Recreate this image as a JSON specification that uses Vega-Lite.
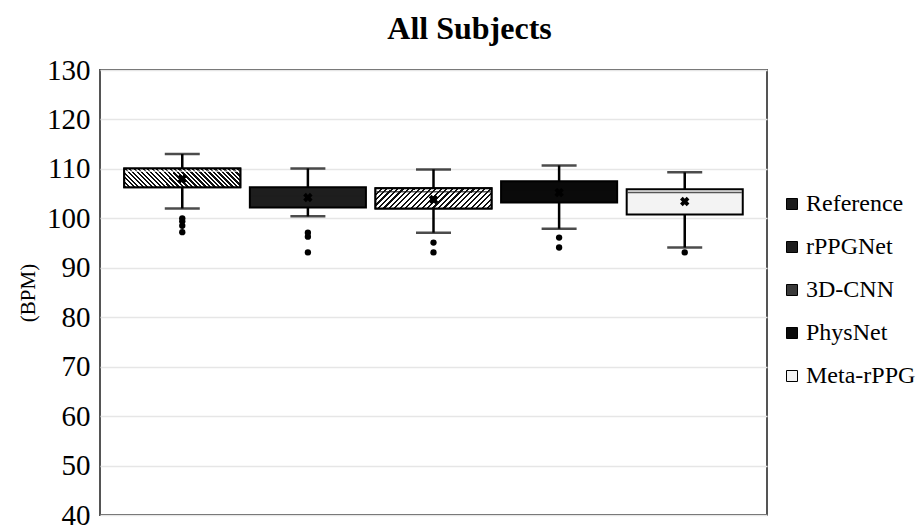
{
  "$schema": "https://vega.github.io/schema/vega-lite/v6.json",
  "width": 667,
  "height": 445,
  "autosize": {"type": "none"},
  "padding": {"left": 100, "top": 70, "right": 151, "bottom": 10},
  "background": "white",
  "title": {"text": "All Subjects", "font": "Liberation Serif", "fontSize": 32, "fontWeight": "bold", "color": "black", "anchor": "middle", "dx": 36, "baseline": "alphabetic", "offset": 32, "dy": 47},
  "config": {
    "view": {"stroke": "#555", "strokeWidth": 2},
    "axisY": {"labelFont": "Liberation Serif", "labelFontSize": 29, "labelColor": "black", "ticks": false, "labelPadding": 10, "domain": false, "gridColor": "#e6e6e6", "gridWidth": 1.5, "titleFont": "Liberation Serif", "titleFontSize": 21, "titleFontWeight": "normal", "titleColor": "black", "titlePadding": 8}
  },
  "datasets": {
    "boxes": [
      {"group": "Reference", "lower": 102.0, "q1": 106.3, "median": 109.5, "q3": 110.1, "upper": 113.0, "mean": 108.0},
      {"group": "rPPGNet", "lower": 100.4, "q1": 102.2, "median": 104.5, "q3": 106.3, "upper": 110.1, "mean": 104.2},
      {"group": "3D-CNN", "lower": 97.1, "q1": 102.0, "median": 105.4, "q3": 106.1, "upper": 109.9, "mean": 103.8},
      {"group": "PhysNet", "lower": 97.9, "q1": 103.2, "median": 105.5, "q3": 107.5, "upper": 110.7, "mean": 105.2},
      {"group": "Meta-rPPG", "lower": 94.1, "q1": 100.8, "median": 105.2, "q3": 105.9, "upper": 109.3, "mean": 103.4}
    ],
    "outliers": [
      {"group": "Reference", "value": 100.0},
      {"group": "Reference", "value": 99.4},
      {"group": "Reference", "value": 98.5},
      {"group": "Reference", "value": 97.2},
      {"group": "rPPGNet", "value": 97.1},
      {"group": "rPPGNet", "value": 96.3},
      {"group": "rPPGNet", "value": 93.1},
      {"group": "3D-CNN", "value": 95.1},
      {"group": "3D-CNN", "value": 93.1},
      {"group": "PhysNet", "value": 96.1},
      {"group": "PhysNet", "value": 94.1},
      {"group": "Meta-rPPG", "value": 93.1}
    ]
  },
  "data": {"name": "boxes"},
  "encoding": {
    "x": {"field": "group", "type": "nominal", "sort": ["Reference", "rPPGNet", "3D-CNN", "PhysNet", "Meta-rPPG"], "axis": null, "scale": {"paddingInner": 0.076, "paddingOuter": 0.193}}
  },
  "layer": [
    {
      "mark": {"type": "rule", "color": "black", "strokeWidth": 2.5},
      "encoding": {
        "y": {"field": "lower", "type": "quantitative", "scale": {"domain": [40, 130], "nice": false, "zero": false}, "axis": {"title": "(BPM)", "values": [40, 50, 60, 70, 80, 90, 100, 110, 120, 130]}},
        "y2": {"field": "upper"}
      }
    },
    {
      "mark": {"type": "tick", "color": "black", "size": 35, "thickness": 2.5, "orient": "horizontal"},
      "encoding": {"y": {"field": "upper", "type": "quantitative"}}
    },
    {
      "mark": {"type": "tick", "color": "black", "size": 35, "thickness": 2.5, "orient": "horizontal"},
      "encoding": {"y": {"field": "lower", "type": "quantitative"}}
    },
    {
      "mark": {"type": "bar", "stroke": "black", "strokeWidth": 2, "opacity": 1},
      "encoding": {
        "y": {"field": "q1", "type": "quantitative"},
        "y2": {"field": "q3"},
        "color": {
          "field": "group", "type": "nominal",
          "sort": ["Reference", "rPPGNet", "3D-CNN", "PhysNet", "Meta-rPPG"],
          "scale": {"domain": ["Reference", "rPPGNet", "3D-CNN", "PhysNet", "Meta-rPPG"], "range": ["#1c1c1c", "#1e1e1e", "#3a3a3a", "#0a0a0a", "#f3f3f3"]},
          "legend": {"title": null, "orient": "none", "legendX": 680, "legendY": 122, "symbolType": "square", "symbolSize": 121, "symbolStrokeColor": "black", "symbolStrokeWidth": 1, "symbolOpacity": 1, "labelFont": "Liberation Serif", "labelFontSize": 24, "labelColor": "black", "rowPadding": 19, "labelOffset": 2, "labelLimit": 300}
        }
      }
    },
    {
      "transform": [{"filter": "datum.group === 'Reference'"}],
      "mark": {"type": "bar", "stroke": "black", "strokeWidth": 2, "fill": {"gradient": "linear", "x1": 0, "y1": 1, "x2": 1.132, "y2": 0.817, "stops": [
        {"offset": 0, "color": "#111"}, {"offset": 0.018, "color": "#111"}, {"offset": 0.018, "color": "#fff"}, {"offset": 0.0333, "color": "#fff"},
        {"offset": 0.0333, "color": "#111"}, {"offset": 0.0513, "color": "#111"}, {"offset": 0.0513, "color": "#fff"}, {"offset": 0.0667, "color": "#fff"},
        {"offset": 0.0667, "color": "#111"}, {"offset": 0.0847, "color": "#111"}, {"offset": 0.0847, "color": "#fff"}, {"offset": 0.1, "color": "#fff"},
        {"offset": 0.1, "color": "#111"}, {"offset": 0.118, "color": "#111"}, {"offset": 0.118, "color": "#fff"}, {"offset": 0.1333, "color": "#fff"},
        {"offset": 0.1333, "color": "#111"}, {"offset": 0.1513, "color": "#111"}, {"offset": 0.1513, "color": "#fff"}, {"offset": 0.1667, "color": "#fff"},
        {"offset": 0.1667, "color": "#111"}, {"offset": 0.1847, "color": "#111"}, {"offset": 0.1847, "color": "#fff"}, {"offset": 0.2, "color": "#fff"},
        {"offset": 0.2, "color": "#111"}, {"offset": 0.218, "color": "#111"}, {"offset": 0.218, "color": "#fff"}, {"offset": 0.2333, "color": "#fff"},
        {"offset": 0.2333, "color": "#111"}, {"offset": 0.2513, "color": "#111"}, {"offset": 0.2513, "color": "#fff"}, {"offset": 0.2667, "color": "#fff"},
        {"offset": 0.2667, "color": "#111"}, {"offset": 0.2847, "color": "#111"}, {"offset": 0.2847, "color": "#fff"}, {"offset": 0.3, "color": "#fff"},
        {"offset": 0.3, "color": "#111"}, {"offset": 0.318, "color": "#111"}, {"offset": 0.318, "color": "#fff"}, {"offset": 0.3333, "color": "#fff"},
        {"offset": 0.3333, "color": "#111"}, {"offset": 0.3513, "color": "#111"}, {"offset": 0.3513, "color": "#fff"}, {"offset": 0.3667, "color": "#fff"},
        {"offset": 0.3667, "color": "#111"}, {"offset": 0.3847, "color": "#111"}, {"offset": 0.3847, "color": "#fff"}, {"offset": 0.4, "color": "#fff"},
        {"offset": 0.4, "color": "#111"}, {"offset": 0.418, "color": "#111"}, {"offset": 0.418, "color": "#fff"}, {"offset": 0.4333, "color": "#fff"},
        {"offset": 0.4333, "color": "#111"}, {"offset": 0.4513, "color": "#111"}, {"offset": 0.4513, "color": "#fff"}, {"offset": 0.4667, "color": "#fff"},
        {"offset": 0.4667, "color": "#111"}, {"offset": 0.4847, "color": "#111"}, {"offset": 0.4847, "color": "#fff"}, {"offset": 0.5, "color": "#fff"},
        {"offset": 0.5, "color": "#111"}, {"offset": 0.518, "color": "#111"}, {"offset": 0.518, "color": "#fff"}, {"offset": 0.5333, "color": "#fff"},
        {"offset": 0.5333, "color": "#111"}, {"offset": 0.5513, "color": "#111"}, {"offset": 0.5513, "color": "#fff"}, {"offset": 0.5667, "color": "#fff"},
        {"offset": 0.5667, "color": "#111"}, {"offset": 0.5847, "color": "#111"}, {"offset": 0.5847, "color": "#fff"}, {"offset": 0.6, "color": "#fff"},
        {"offset": 0.6, "color": "#111"}, {"offset": 0.618, "color": "#111"}, {"offset": 0.618, "color": "#fff"}, {"offset": 0.6333, "color": "#fff"},
        {"offset": 0.6333, "color": "#111"}, {"offset": 0.6513, "color": "#111"}, {"offset": 0.6513, "color": "#fff"}, {"offset": 0.6667, "color": "#fff"},
        {"offset": 0.6667, "color": "#111"}, {"offset": 0.6847, "color": "#111"}, {"offset": 0.6847, "color": "#fff"}, {"offset": 0.7, "color": "#fff"},
        {"offset": 0.7, "color": "#111"}, {"offset": 0.718, "color": "#111"}, {"offset": 0.718, "color": "#fff"}, {"offset": 0.7333, "color": "#fff"},
        {"offset": 0.7333, "color": "#111"}, {"offset": 0.7513, "color": "#111"}, {"offset": 0.7513, "color": "#fff"}, {"offset": 0.7667, "color": "#fff"},
        {"offset": 0.7667, "color": "#111"}, {"offset": 0.7847, "color": "#111"}, {"offset": 0.7847, "color": "#fff"}, {"offset": 0.8, "color": "#fff"},
        {"offset": 0.8, "color": "#111"}, {"offset": 0.818, "color": "#111"}, {"offset": 0.818, "color": "#fff"}, {"offset": 0.8333, "color": "#fff"},
        {"offset": 0.8333, "color": "#111"}, {"offset": 0.8513, "color": "#111"}, {"offset": 0.8513, "color": "#fff"}, {"offset": 0.8667, "color": "#fff"},
        {"offset": 0.8667, "color": "#111"}, {"offset": 0.8847, "color": "#111"}, {"offset": 0.8847, "color": "#fff"}, {"offset": 0.9, "color": "#fff"},
        {"offset": 0.9, "color": "#111"}, {"offset": 0.918, "color": "#111"}, {"offset": 0.918, "color": "#fff"}, {"offset": 0.9333, "color": "#fff"},
        {"offset": 0.9333, "color": "#111"}, {"offset": 0.9513, "color": "#111"}, {"offset": 0.9513, "color": "#fff"}, {"offset": 0.9667, "color": "#fff"},
        {"offset": 0.9667, "color": "#111"}, {"offset": 0.9847, "color": "#111"}, {"offset": 0.9847, "color": "#fff"}, {"offset": 1, "color": "#fff"}
      ]}},
      "encoding": {
        "y": {"field": "q1", "type": "quantitative"},
        "y2": {"field": "q3"}
      }
    },
    {
      "transform": [{"filter": "datum.group === '3D-CNN'"}],
      "mark": {"type": "bar", "stroke": "black", "strokeWidth": 2, "fill": {"gradient": "linear", "x1": 0, "y1": 0, "x2": 1.14, "y2": 0.2, "stops": [
        {"offset": 0, "color": "#111"}, {"offset": 0.016, "color": "#111"}, {"offset": 0.016, "color": "#fff"}, {"offset": 0.04, "color": "#fff"},
        {"offset": 0.04, "color": "#111"}, {"offset": 0.056, "color": "#111"}, {"offset": 0.056, "color": "#fff"}, {"offset": 0.08, "color": "#fff"},
        {"offset": 0.08, "color": "#111"}, {"offset": 0.096, "color": "#111"}, {"offset": 0.096, "color": "#fff"}, {"offset": 0.12, "color": "#fff"},
        {"offset": 0.12, "color": "#111"}, {"offset": 0.136, "color": "#111"}, {"offset": 0.136, "color": "#fff"}, {"offset": 0.16, "color": "#fff"},
        {"offset": 0.16, "color": "#111"}, {"offset": 0.176, "color": "#111"}, {"offset": 0.176, "color": "#fff"}, {"offset": 0.2, "color": "#fff"},
        {"offset": 0.2, "color": "#111"}, {"offset": 0.216, "color": "#111"}, {"offset": 0.216, "color": "#fff"}, {"offset": 0.24, "color": "#fff"},
        {"offset": 0.24, "color": "#111"}, {"offset": 0.256, "color": "#111"}, {"offset": 0.256, "color": "#fff"}, {"offset": 0.28, "color": "#fff"},
        {"offset": 0.28, "color": "#111"}, {"offset": 0.296, "color": "#111"}, {"offset": 0.296, "color": "#fff"}, {"offset": 0.32, "color": "#fff"},
        {"offset": 0.32, "color": "#111"}, {"offset": 0.336, "color": "#111"}, {"offset": 0.336, "color": "#fff"}, {"offset": 0.36, "color": "#fff"},
        {"offset": 0.36, "color": "#111"}, {"offset": 0.376, "color": "#111"}, {"offset": 0.376, "color": "#fff"}, {"offset": 0.4, "color": "#fff"},
        {"offset": 0.4, "color": "#111"}, {"offset": 0.416, "color": "#111"}, {"offset": 0.416, "color": "#fff"}, {"offset": 0.44, "color": "#fff"},
        {"offset": 0.44, "color": "#111"}, {"offset": 0.456, "color": "#111"}, {"offset": 0.456, "color": "#fff"}, {"offset": 0.48, "color": "#fff"},
        {"offset": 0.48, "color": "#111"}, {"offset": 0.496, "color": "#111"}, {"offset": 0.496, "color": "#fff"}, {"offset": 0.52, "color": "#fff"},
        {"offset": 0.52, "color": "#111"}, {"offset": 0.536, "color": "#111"}, {"offset": 0.536, "color": "#fff"}, {"offset": 0.56, "color": "#fff"},
        {"offset": 0.56, "color": "#111"}, {"offset": 0.576, "color": "#111"}, {"offset": 0.576, "color": "#fff"}, {"offset": 0.6, "color": "#fff"},
        {"offset": 0.6, "color": "#111"}, {"offset": 0.616, "color": "#111"}, {"offset": 0.616, "color": "#fff"}, {"offset": 0.64, "color": "#fff"},
        {"offset": 0.64, "color": "#111"}, {"offset": 0.656, "color": "#111"}, {"offset": 0.656, "color": "#fff"}, {"offset": 0.68, "color": "#fff"},
        {"offset": 0.68, "color": "#111"}, {"offset": 0.696, "color": "#111"}, {"offset": 0.696, "color": "#fff"}, {"offset": 0.72, "color": "#fff"},
        {"offset": 0.72, "color": "#111"}, {"offset": 0.736, "color": "#111"}, {"offset": 0.736, "color": "#fff"}, {"offset": 0.76, "color": "#fff"},
        {"offset": 0.76, "color": "#111"}, {"offset": 0.776, "color": "#111"}, {"offset": 0.776, "color": "#fff"}, {"offset": 0.8, "color": "#fff"},
        {"offset": 0.8, "color": "#111"}, {"offset": 0.816, "color": "#111"}, {"offset": 0.816, "color": "#fff"}, {"offset": 0.84, "color": "#fff"},
        {"offset": 0.84, "color": "#111"}, {"offset": 0.856, "color": "#111"}, {"offset": 0.856, "color": "#fff"}, {"offset": 0.88, "color": "#fff"},
        {"offset": 0.88, "color": "#111"}, {"offset": 0.896, "color": "#111"}, {"offset": 0.896, "color": "#fff"}, {"offset": 0.92, "color": "#fff"},
        {"offset": 0.92, "color": "#111"}, {"offset": 0.936, "color": "#111"}, {"offset": 0.936, "color": "#fff"}, {"offset": 0.96, "color": "#fff"},
        {"offset": 0.96, "color": "#111"}, {"offset": 0.976, "color": "#111"}, {"offset": 0.976, "color": "#fff"}, {"offset": 1, "color": "#fff"}
      ]}},
      "encoding": {
        "y": {"field": "q1", "type": "quantitative"},
        "y2": {"field": "q3"}
      }
    },
    {
      "mark": {"type": "tick", "size": 114, "thickness": 1.5, "orient": "horizontal"},
      "encoding": {
        "y": {"field": "median", "type": "quantitative"},
        "color": {"condition": [{"test": "datum.group === 'Reference'", "value": "#ffffff"}, {"test": "datum.group === 'rPPGNet'", "value": "#1e1e1e"}, {"test": "datum.group === 'PhysNet'", "value": "#0a0a0a"}], "value": "#111111"}
      }
    },
    {
      "mark": {"type": "point", "shape": "cross", "angle": 45, "size": 90, "filled": true, "color": "black", "opacity": 1},
      "encoding": {"y": {"field": "mean", "type": "quantitative"}}
    },
    {
      "data": {"name": "outliers"},
      "mark": {"type": "circle", "size": 40, "color": "black", "opacity": 1},
      "encoding": {"y": {"field": "value", "type": "quantitative"}}
    }
  ]
}
